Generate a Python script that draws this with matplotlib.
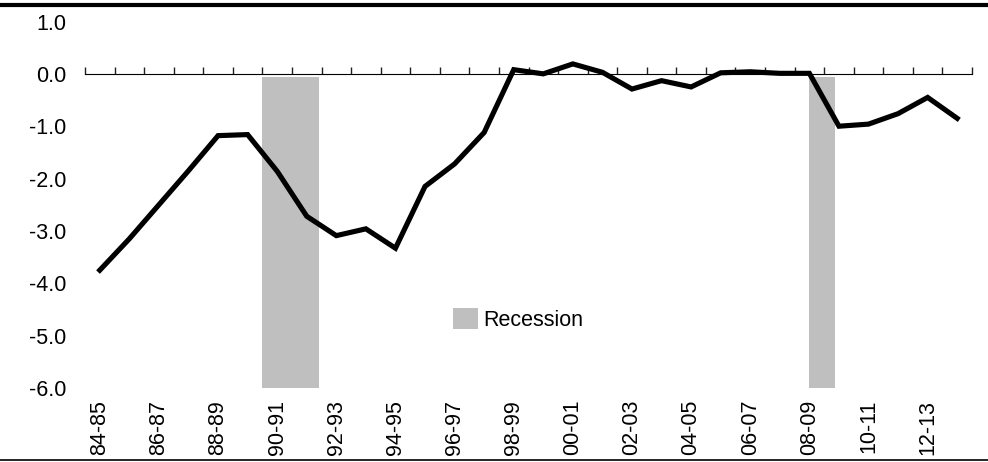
import matplotlib
matplotlib.use("Agg")
import matplotlib.pyplot as plt
from matplotlib.lines import Line2D
import numpy as np

plt.rcParams['font.family'] = ['Liberation Sans', 'DejaVu Sans']

categories = ['84-85', '85-86', '86-87', '87-88', '88-89', '89-90', '90-91', '91-92',
              '92-93', '93-94', '94-95', '95-96', '96-97', '97-98', '98-99', '99-00',
              '00-01', '01-02', '02-03', '03-04', '04-05', '05-06', '06-07', '07-08',
              '08-09', '09-10', '10-11', '11-12', '12-13', '13-14']
values = [-3.75, -3.15, -2.50, -1.85, -1.18, -1.16, -1.86, -2.72,
          -3.09, -2.96, -3.33, -2.15, -1.72, -1.12, 0.08, 0.00,
          0.19, 0.03, -0.29, -0.13, -0.25, 0.02, 0.04, 0.01,
          0.01, -1.00, -0.96, -0.76, -0.45, -0.85]
# recession periods as (start, end) positions on the category scale
recession_start = [5.48, 24.0]
recession_end = [7.41, 24.88]
recession_label = 'Recession'
y_ticks = [1.0, 0.0, -1.0, -2.0, -3.0, -4.0, -5.0, -6.0]

fig = plt.figure(figsize=(9.88, 4.62), dpi=100)
ax = fig.add_axes([85/988, 74/462, 887/988, (388-21.5)/462])

x = np.arange(len(categories))
starts = np.array(recession_start)
ends = np.array(recession_end)
ax.bar((starts + ends) / 2, -6.0, width=ends - starts, bottom=-0.06,
       color='#BFBFBF', label=recession_label, zorder=1)
ax.plot(x, values, color='black', lw=3.7, solid_joinstyle='miter', zorder=3)

ax.set_xlim(-0.5, len(categories) - 0.5)
ax.set_ylim(-6, 1)

for s in ['left', 'right', 'top', 'bottom']:
    ax.spines[s].set_visible(False)

ax.set_yticks(y_ticks)
ax.set_yticklabels([f'{v:.1f}' for v in y_ticks])
ax.tick_params(axis='y', length=0, pad=13.5, labelsize=15.5)

ax.set_xticks(x[::2])
ax.set_xticklabels(categories[::2], rotation=90)
ax.tick_params(axis='x', length=0, pad=8.5, labelsize=15.5)

# horizontal axis line at zero with category boundary ticks
sec = ax.secondary_xaxis(6/7)
sec.set_xticks(np.arange(len(categories) + 1) - 0.5)
sec.set_xticklabels([])
sec.spines['bottom'].set_linewidth(1.0)
sec.tick_params(axis='x', direction='out', length=5, width=1.0, color='#202020')
sec.spines['bottom'].set_color('#202020')

leg = ax.legend(loc='center left', bbox_to_anchor=(0.405, 0.187), frameon=False,
                fontsize=15.5, handlelength=1.15, handleheight=1.15,
                handletextpad=0.25, borderaxespad=0)

fig.add_artist(Line2D([0, 1], [1 - 5/462, 1 - 5/462], transform=fig.transFigure,
                      color='black', lw=3.0))
fig.add_artist(Line2D([0, 1], [2/462, 2/462], transform=fig.transFigure,
                      color='black', lw=1.2))

fig.savefig('out.png', dpi=100)
